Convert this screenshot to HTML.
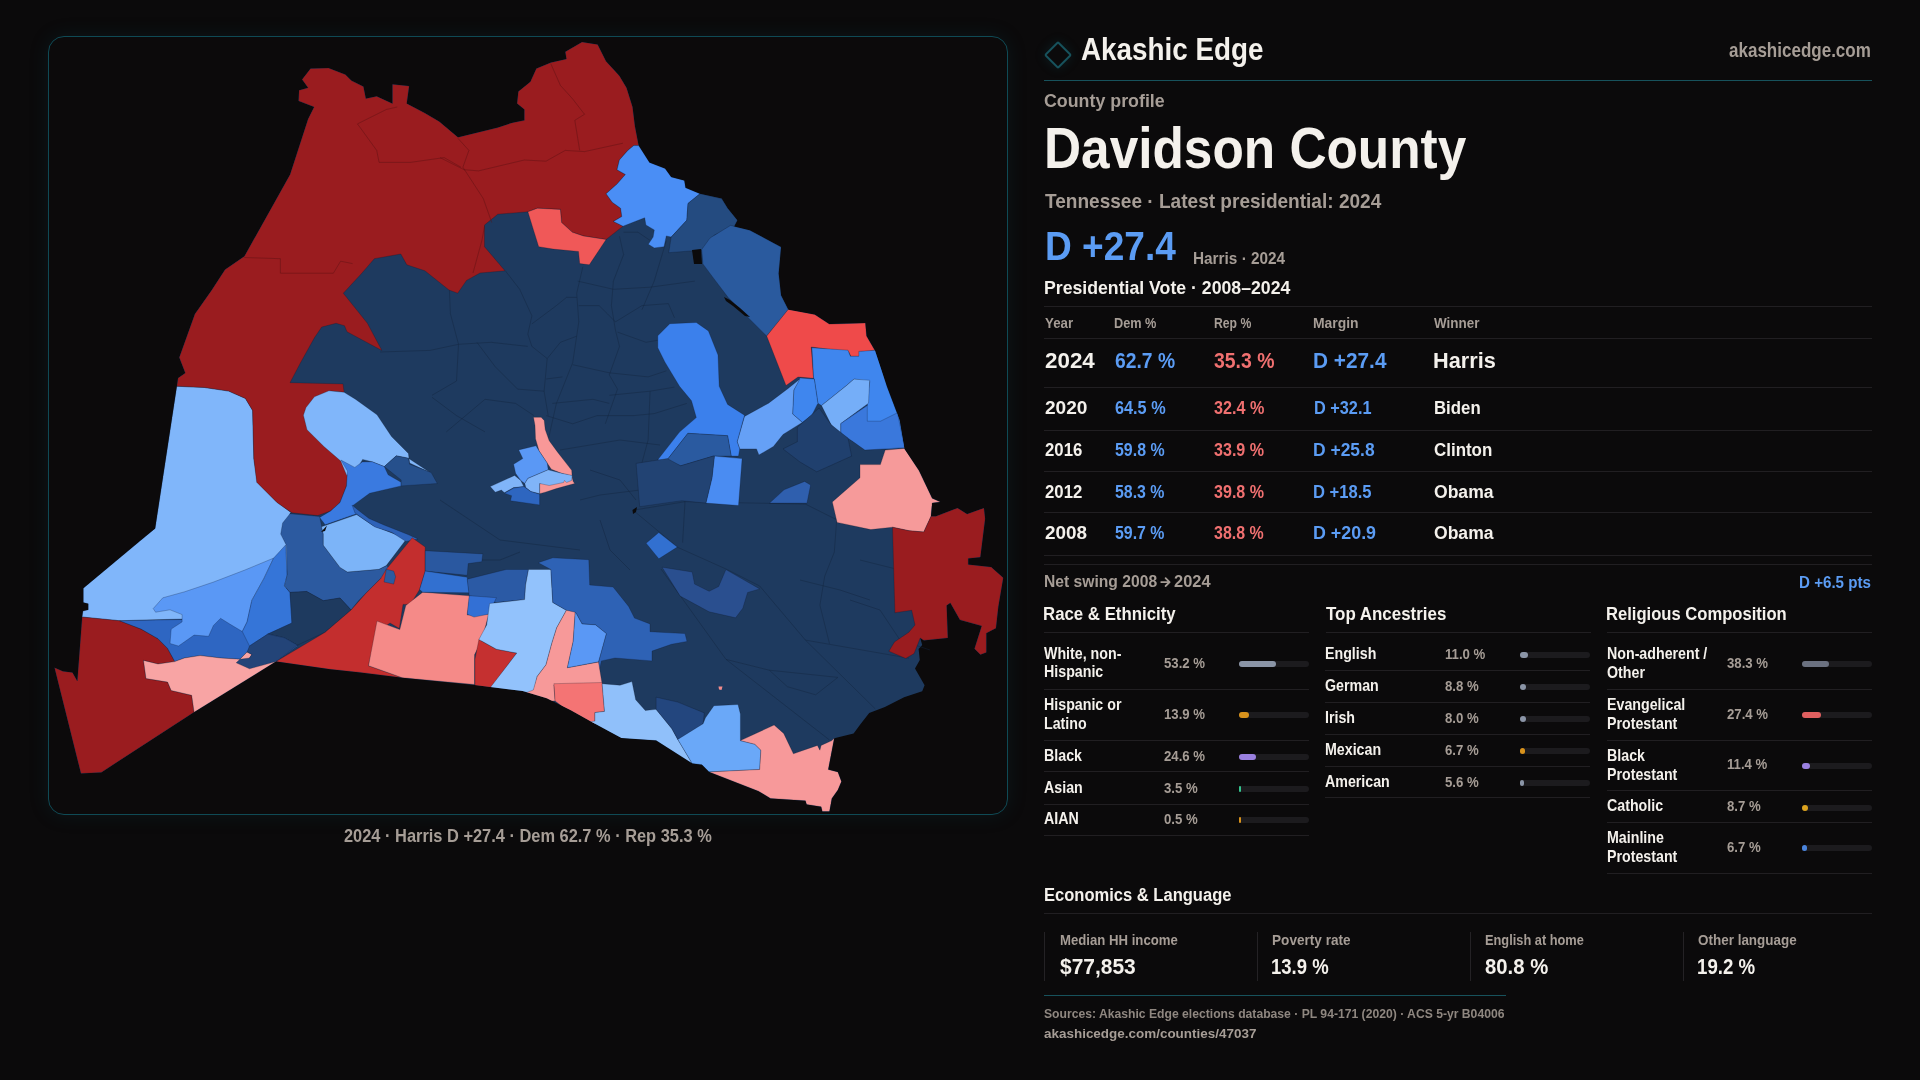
<!DOCTYPE html>
<html><head><meta charset="utf-8"><style>
html,body{margin:0;padding:0;width:1920px;height:1080px;overflow:hidden;background:#0b0a0b;}
.t{position:absolute;white-space:nowrap;line-height:1;font-family:"Liberation Sans",sans-serif;transform-origin:0 0;}
.r{position:absolute;}
.frame{position:absolute;left:48px;top:36px;width:958px;height:777px;border:1.2px solid #0f4a55;border-radius:16px;background:#0c0a0b;box-shadow:0 0 20px rgba(20,90,100,0.16);}
.diamond{position:absolute;left:1047.8px;top:45.3px;width:16px;height:16px;border:2px solid #17525c;border-radius:2px;transform:rotate(45deg);box-shadow:0 0 12px rgba(20,100,110,0.22);}
svg.map{position:absolute;left:0;top:0;}
</style></head><body>
<div class="frame"></div>
<svg class="map" width="1920" height="1080" viewBox="0 0 1920 1080">
<defs><clipPath id="oc"><polygon points="308.0,119.0 314.0,107.0 298.5,101.0 299.0,90.2 308.0,87.8 302.0,79.4 310.5,68.5 328.6,68.0 345.4,74.5 351.4,80.6 363.5,86.6 365.9,98.6 376.7,96.2 392.4,103.4 392.4,84.2 409.2,85.9 406.8,103.4 424.9,113.1 439.3,121.5 458.0,137.2 497.8,127.5 512.2,122.7 524.3,120.3 524.3,109.5 517.0,103.4 518.3,91.4 530.3,81.8 536.3,68.5 550.8,62.5 566.4,58.9 565.2,51.7 582.0,42.0 597.7,44.4 606.1,61.3 619.4,75.7 626.6,87.8 632.6,107.0 635.0,126.3 638.7,145.6 649.5,162.4 665.1,168.5 671.2,176.9 684.4,180.5 685.6,187.7 700.0,193.7 721.7,198.6 727.7,208.2 737.4,220.2 734.2,226.6 749.8,230.2 781.1,247.0 778.7,273.5 781.1,295.2 788.4,309.7 814.8,314.5 829.3,324.1 865.4,322.9 866.6,336.1 875.0,350.6 887.1,386.7 899.7,420.0 904.5,448.9 919.0,470.6 932.2,498.3 940.6,501.9 932.2,503.1 931.0,516.3 935.8,516.3 957.5,507.9 967.1,513.9 984.0,507.9 985.2,518.7 980.4,557.3 968.3,558.5 968.3,564.5 991.2,566.9 1003.3,577.8 998.4,606.7 996.0,628.3 986.4,633.2 986.4,652.4 980.4,654.8 974.4,648.8 981.6,625.9 959.9,619.9 950.3,603.0 946.7,605.5 947.9,638.0 923.8,640.4 920.2,638.0 922.2,645.0 918.6,649.1 919.8,659.9 915.0,668.4 924.6,685.2 922.2,691.2 904.1,697.2 884.9,706.9 869.2,712.9 860.8,723.7 853.6,733.4 834.3,738.2 828.3,769.5 837.9,771.9 841.5,781.5 837.9,790.0 831.9,798.4 829.5,811.6 822.3,811.6 821.1,806.8 806.6,804.4 805.4,800.8 770.5,798.4 758.5,791.2 709.1,771.9 701.9,764.7 692.2,763.5 656.1,740.6 621.4,737.9 590.0,721.1 570.8,710.2 546.7,698.2 522.6,691.0 474.5,685.0 402.2,677.7 360.0,672.4 330.0,669.3 276.0,661.6 194.1,712.2 101.4,772.4 80.9,773.6 54.4,667.6 62.9,671.2 72.5,672.4 77.3,680.9 82.1,617.0 82.9,611.0 88.2,609.8 88.2,603.8 83.3,602.6 83.3,588.2 141.1,540.0 155.1,528.4 176.8,386.3 178.0,377.9 185.2,373.1 179.2,357.4 194.8,314.1 211.7,290.0 225.0,269.6 244.3,256.3 290.0,174.5"/></clipPath></defs>
<polygon fill="#1e3a5f" points="308.0,119.0 314.0,107.0 298.5,101.0 299.0,90.2 308.0,87.8 302.0,79.4 310.5,68.5 328.6,68.0 345.4,74.5 351.4,80.6 363.5,86.6 365.9,98.6 376.7,96.2 392.4,103.4 392.4,84.2 409.2,85.9 406.8,103.4 424.9,113.1 439.3,121.5 458.0,137.2 497.8,127.5 512.2,122.7 524.3,120.3 524.3,109.5 517.0,103.4 518.3,91.4 530.3,81.8 536.3,68.5 550.8,62.5 566.4,58.9 565.2,51.7 582.0,42.0 597.7,44.4 606.1,61.3 619.4,75.7 626.6,87.8 632.6,107.0 635.0,126.3 638.7,145.6 649.5,162.4 665.1,168.5 671.2,176.9 684.4,180.5 685.6,187.7 700.0,193.7 721.7,198.6 727.7,208.2 737.4,220.2 734.2,226.6 749.8,230.2 781.1,247.0 778.7,273.5 781.1,295.2 788.4,309.7 814.8,314.5 829.3,324.1 865.4,322.9 866.6,336.1 875.0,350.6 887.1,386.7 899.7,420.0 904.5,448.9 919.0,470.6 932.2,498.3 940.6,501.9 932.2,503.1 931.0,516.3 935.8,516.3 957.5,507.9 967.1,513.9 984.0,507.9 985.2,518.7 980.4,557.3 968.3,558.5 968.3,564.5 991.2,566.9 1003.3,577.8 998.4,606.7 996.0,628.3 986.4,633.2 986.4,652.4 980.4,654.8 974.4,648.8 981.6,625.9 959.9,619.9 950.3,603.0 946.7,605.5 947.9,638.0 923.8,640.4 920.2,638.0 922.2,645.0 918.6,649.1 919.8,659.9 915.0,668.4 924.6,685.2 922.2,691.2 904.1,697.2 884.9,706.9 869.2,712.9 860.8,723.7 853.6,733.4 834.3,738.2 828.3,769.5 837.9,771.9 841.5,781.5 837.9,790.0 831.9,798.4 829.5,811.6 822.3,811.6 821.1,806.8 806.6,804.4 805.4,800.8 770.5,798.4 758.5,791.2 709.1,771.9 701.9,764.7 692.2,763.5 656.1,740.6 621.4,737.9 590.0,721.1 570.8,710.2 546.7,698.2 522.6,691.0 474.5,685.0 402.2,677.7 360.0,672.4 330.0,669.3 276.0,661.6 194.1,712.2 101.4,772.4 80.9,773.6 54.4,667.6 62.9,671.2 72.5,672.4 77.3,680.9 82.1,617.0 82.9,611.0 88.2,609.8 88.2,603.8 83.3,602.6 83.3,588.2 141.1,540.0 155.1,528.4 176.8,386.3 178.0,377.9 185.2,373.1 179.2,357.4 194.8,314.1 211.7,290.0 225.0,269.6 244.3,256.3 290.0,174.5"/>
<g fill="none" stroke="#13253f" stroke-opacity="0.55" stroke-width="0.8" stroke-linejoin="round">
<polyline points="634.4,511.3 677.8,547.4 726.0,569.0 759.7,586.0"/>
<polyline points="661.0,569.0 726.0,659.4 829.5,740.0"/>
<polyline points="759.7,586.0 805.4,640.1 875.2,708.8"/>
<polyline points="726.0,659.4 769.3,670.2 837.9,677.4"/>
<polyline points="769.3,670.2 787.4,686.7 815.6,694.8 837.9,677.4"/>
<polyline points="805.4,640.1 909.0,658.2"/>
<polyline points="634.4,510.0 685.0,501.7 805.4,504.1 836.7,519.7"/>
<polyline points="836.7,519.7 834.3,552.2 824.7,576.3 819.9,605.2 829.5,643.7"/>
<polyline points="685.0,501.7 682.6,542.6"/>
<polyline points="505.4,270.9 519.7,289.3 531.9,315.8 527.8,334.1 531.9,346.4 547.2,358.6 544.1,391.2 548.2,415.6"/>
<polyline points="531.9,323.9 556.4,305.6 566.5,297.4 576.7,297.4"/>
<polyline points="582.8,266.9 576.7,293.4 578.8,321.9 572.7,362.7 556.4,403.4 548.2,440.0"/>
<polyline points="547.2,358.6 560.4,342.3 576.7,336.2"/>
<polyline points="380.0,352.0 430.0,350.4 458.5,344.3 491.1,342.3 527.8,346.4"/>
<polyline points="449.4,289.3 450.4,313.7 458.5,344.3 456.5,381.0 432.0,395.3"/>
<polyline points="476.9,342.3 495.2,366.7 517.6,389.1 544.1,391.2"/>
<polyline points="432.0,397.3 456.5,415.6 485.0,431.9"/>
<polyline points="446.3,431.9 485.0,399.3 515.6,403.4 533.9,415.6"/>
<polyline points="577.7,281.1 613.4,289.3 650.1,287.2 694.9,281.1"/>
<polyline points="578.8,305.6 599.1,305.6 607.3,313.7 615.4,321.9 642.0,305.6 668.4,303.6 674.5,317.8"/>
<polyline points="619.5,236.3 623.6,254.6 613.4,281.1 611.4,305.6 615.4,330.0 619.5,346.4 609.3,374.9 617.5,389.1 605.3,423.8"/>
<polyline points="666.4,240.4 654.2,281.1 642.0,309.7"/>
<polyline points="617.5,332.1 646.0,342.3 658.2,340.2"/>
<polyline points="572.7,364.7 609.3,372.8 648.1,376.9 666.4,370.8"/>
<polyline points="546.2,379.0 562.5,376.9"/>
<polyline points="609.3,395.3 650.1,391.2 674.5,387.1"/>
<polyline points="552.3,403.4 593.0,399.3 609.3,403.4"/>
<polyline points="546.2,415.6 572.7,423.8 597.1,415.6 633.8,415.6 654.2,413.6 686.8,403.4"/>
<polyline points="650.1,391.2 648.1,440.0 640.0,470.0"/>
<polyline points="623.6,232.2 637.9,232.2 650.1,240.4"/>
<polyline points="590.0,470.0 620.0,480.0 636.0,500.0"/>
<polyline points="440.0,500.0 470.0,520.0 500.0,540.0 540.0,545.0 580.0,550.0"/>
<polyline points="600.0,520.0 610.0,550.0 630.0,570.0"/>
<polyline points="850.0,600.0 880.0,610.0 900.0,640.0 930.0,650.0"/>
<polyline points="860.0,560.0 900.0,570.0 940.0,580.0 960.0,600.0"/>
<polyline points="800.0,580.0 840.0,590.0 870.0,600.0"/>
<polyline points="560.0,450.0 590.0,445.0 620.0,440.0 660.0,445.0"/>
<polyline points="580.0,500.0 600.0,495.0 640.0,490.0"/>
<polyline points="470.0,560.0 500.0,560.0 520.0,552.0"/>
</g>
<g clip-path="url(#oc)">
<polygon fill="#80b6fa" points="176.8,386.3 155.1,528.4 141.1,540.0 83.3,588.2 83.3,602.6 88.2,603.8 88.2,609.8 82.9,611.0 82.1,617.0 119.5,620.7 182.0,619.0 240.0,606.0 286.0,593.0 290.0,513.0 291.2,512.7 276.7,501.9 257.4,482.6 253.8,458.6 252.6,410.4 245.4,398.4 228.6,391.1 204.5,387.5" stroke="#0b1424" stroke-opacity="0.35" stroke-width="0.7" stroke-linejoin="round"/>
<polygon fill="#9a1c1f" points="176.8,386.3 178.0,377.9 185.2,373.1 179.2,357.4 194.8,314.1 211.7,290.0 225.0,269.6 244.3,256.3 290.0,174.5 308.0,119.0 314.0,107.0 298.5,101.0 299.0,90.2 308.0,87.8 302.0,79.4 310.5,68.5 328.6,68.0 345.4,74.5 351.4,80.6 363.5,86.6 365.9,98.6 376.7,96.2 392.4,103.4 392.4,84.2 409.2,85.9 406.8,103.4 424.9,113.1 439.3,121.5 458.0,137.2 497.8,127.5 512.2,122.7 524.3,120.3 524.3,109.5 517.0,103.4 518.3,91.4 530.3,81.8 536.3,68.5 550.8,62.5 566.4,58.9 565.2,51.7 582.0,42.0 597.7,44.4 606.1,61.3 619.4,75.7 626.6,87.8 632.6,107.0 635.0,126.3 638.7,145.6 633.8,145.6 627.8,150.4 619.4,160.0 617.0,169.7 625.4,174.5 617.0,184.1 606.1,193.7 612.2,202.2 620.6,208.2 621.8,216.6 613.4,221.4 623.0,226.2 618.2,229.9 606.1,239.5 583.3,235.9 572.4,232.3 561.6,222.6 560.4,209.4 537.5,208.2 527.9,211.8 497.8,214.2 484.5,225.0 484.5,246.7 505.0,270.8 480.0,273.0 466.5,280.4 457.7,293.2 449.0,290.0 424.9,270.8 406.8,264.8 400.8,254.0 374.3,258.7 362.0,273.0 343.3,293.2 357.8,311.3 367.4,323.3 381.9,350.5 347.0,331.8 344.5,325.7 336.1,323.3 321.7,327.0 314.4,337.8 300.8,362.2 290.0,382.7 343.0,383.9 344.1,392.3 329.7,391.1 312.8,400.8 304.4,415.2 308.0,429.7 324.9,446.5 341.7,461.0 347.7,475.4 346.5,485.9 340.0,502.6 330.7,510.9 317.8,515.6 291.9,512.8 277.0,502.6 256.7,482.2 253.8,458.6 252.6,410.4 245.4,398.4 228.6,391.1 204.5,387.5 178.0,386.3" stroke="#0b1424" stroke-opacity="0.35" stroke-width="0.7" stroke-linejoin="round"/>
<g fill="none" stroke="#5a1012" stroke-opacity="0.55" stroke-width="0.8" stroke-linejoin="round">
<polyline points="550.8,63.7 560.4,85.4 572.4,98.6 584.5,114.3 574.8,120.3 579.7,150.4"/>
<polyline points="458.0,138.4 468.9,150.4 462.9,167.2 483.3,198.6 491.8,222.6"/>
<polyline points="464.1,169.7 478.5,170.9 524.3,160.0 546.0,161.2 565.2,150.4 584.5,151.6 623.0,143.2"/>
<polyline points="440.0,157.6 454.4,164.8 464.1,169.7"/>
<polyline points="357.5,123.9 376.7,150.4 379.1,162.4 410.4,162.4 444.1,157.6 461.0,167.2"/>
<polyline points="357.5,123.9 386.3,109.5 397.2,107.0"/>
<polyline points="244.3,257.5 280.4,258.7 280.4,273.2 333.4,273.2 340.6,261.2 352.6,263.6"/>
<polyline points="484.6,226.0 482.0,240.0 473.0,273.0"/>
</g>
<polygon fill="#80b6fa" points="314.4,396.8 328.9,390.8 344.1,392.3 355.4,399.2 377.0,414.8 391.5,436.5 408.4,453.4 409.6,463.0 430.0,472.6 408.4,458.2 396.3,455.8 384.3,466.6 372.2,461.8 362.6,459.4 357.8,467.8 346.7,475.4 340.7,461.0 323.9,446.5 307.0,429.7 303.4,415.2 306.0,407.6" stroke="#0b1424" stroke-opacity="0.35" stroke-width="0.7" stroke-linejoin="round"/>
<polygon fill="#3a7ae0" points="340.9,460.0 354.8,467.4 362.2,461.9 372.2,461.8 384.3,466.6 388.1,474.8 401.1,482.2 401.1,485.9 369.6,493.3 353.0,505.4 356.7,513.7 325.2,524.8 319.6,517.4 330.7,510.9 340.0,502.6 346.5,485.9 347.4,471.1" stroke="#0b1424" stroke-opacity="0.35" stroke-width="0.7" stroke-linejoin="round"/>
<polygon fill="#26508c" points="384.3,466.6 396.3,455.8 408.4,458.2 409.6,464.2 431.2,472.6 437.3,483.5 401.1,485.9 401.1,479.9" stroke="#0b1424" stroke-opacity="0.35" stroke-width="0.7" stroke-linejoin="round"/>
<polygon fill="#9a1c1f" points="82.1,617.0 77.3,680.9 72.5,672.4 62.9,671.2 54.4,667.6 80.9,773.6 101.4,772.4 194.1,712.2 191.7,695.3 171.2,690.5 167.6,682.1 146.0,678.5 143.5,660.4 158.0,664.0 174.8,661.6 167.6,648.4 158.0,638.7 141.1,629.1 119.5,620.7" stroke="#0b1424" stroke-opacity="0.35" stroke-width="0.7" stroke-linejoin="round"/>
<polygon fill="#2e66c2" points="119.5,620.7 182.1,619.5 240.0,606.0 290.0,593.0 297.6,646.0 276.0,661.6 268.7,658.0 249.5,658.0 251.9,654.4 247.1,652.0 239.9,659.2 220.6,658.0 200.1,655.6 184.5,658.0 174.8,661.6 167.6,648.4 158.0,638.7 141.1,629.1" stroke="#0b1424" stroke-opacity="0.35" stroke-width="0.7" stroke-linejoin="round"/>
<polygon fill="#f8a4a4" points="143.5,660.4 158.0,664.0 174.8,661.6 184.5,658.0 200.1,655.6 220.6,658.0 239.9,659.2 247.1,652.0 251.9,654.4 249.5,658.0 268.7,658.0 276.0,661.6 194.1,712.2 191.7,695.3 171.2,690.5 167.6,682.1 146.0,678.5" stroke="#0b1424" stroke-opacity="0.35" stroke-width="0.7" stroke-linejoin="round"/>
<polygon fill="#5a98f5" points="153.2,608.6 162.8,597.8 184.5,591.8 213.4,582.1 244.7,570.1 273.6,558.1 263.9,578.5 251.9,600.2 247.1,621.9 242.3,631.5 230.2,624.3 220.6,618.3 213.4,625.5 208.6,636.3 194.1,635.1 178.5,646.0 170.0,643.5 171.2,629.1 182.1,621.9 182.1,614.6 170.0,609.8 155.6,612.2" stroke="#0b1424" stroke-opacity="0.35" stroke-width="0.7" stroke-linejoin="round"/>
<polygon fill="#3575d8" points="273.6,558.1 285.6,545.0 287.2,574.8 284.4,585.9 290.0,592.4 291.9,623.0 267.8,634.1 249.5,646.0 242.3,631.5 247.1,621.9 251.9,600.2 263.9,578.5" stroke="#0b1424" stroke-opacity="0.35" stroke-width="0.7" stroke-linejoin="round"/>
<polygon fill="#2c5aa0" points="282.6,523.0 290.0,513.7 319.6,516.5 323.3,534.1 323.3,545.2 340.0,567.4 347.4,572.0 378.9,569.3 386.3,565.6 395.6,573.0 393.7,584.1 380.7,578.5 358.5,600.7 351.1,610.0 340.0,598.0 323.3,600.7 306.7,591.5 290.0,592.4 284.4,585.9 287.2,574.8 286.3,545.2 280.7,534.1" stroke="#0b1424" stroke-opacity="0.35" stroke-width="0.7" stroke-linejoin="round"/>
<polygon fill="#1e3a5f" points="290.0,592.4 306.7,591.5 323.3,600.7 340.0,598.0 351.1,610.0 325.2,632.2 297.4,645.2 284.4,637.8 267.8,634.1 291.9,623.0" stroke="#0b1424" stroke-opacity="0.35" stroke-width="0.7" stroke-linejoin="round"/>
<polygon fill="#234478" points="236.2,662.8 249.5,668.8 276.0,661.6 297.4,645.2 284.4,637.8 267.8,634.1 249.5,646.0 247.1,652.0 251.9,654.4 249.5,658.0 239.9,659.2" stroke="#0b1424" stroke-opacity="0.35" stroke-width="0.7" stroke-linejoin="round"/>
<polygon fill="#7cb4f8" points="321.5,526.7 356.7,514.6 373.3,525.7 406.7,538.7 386.3,565.6 378.9,569.3 347.4,572.0 340.0,567.4 323.3,545.2 323.3,534.1" stroke="#0b1424" stroke-opacity="0.35" stroke-width="0.7" stroke-linejoin="round"/>
<polygon fill="#2e62b8" points="352.0,505.0 358.0,510.0 369.0,518.5 384.0,525.0 408.0,534.5 418.0,539.0 406.0,541.5 392.0,532.5 375.0,527.0 362.0,518.0 355.0,513.0" stroke="#0b1424" stroke-opacity="0.35" stroke-width="0.7" stroke-linejoin="round"/>
<polygon fill="#0b0a0b" points="321.0,532.0 327.0,525.5 325.0,531.0"/>
<polygon fill="#c32e2e" points="276.0,661.6 325.2,632.2 351.1,610.0 365.9,593.3 380.7,578.5 386.3,569.3 412.2,537.8 425.2,547.0 425.2,571.1 419.6,589.6 410.4,604.4 403.0,604.4 399.3,628.5 390.0,623.0 377.0,632.2 368.5,665.7 402.2,677.7 360.0,672.4 330.0,669.3" stroke="#0b1424" stroke-opacity="0.35" stroke-width="0.7" stroke-linejoin="round"/>
<polygon fill="#2c5aa0" points="386.3,569.3 393.7,571.1 395.6,576.7 393.7,584.1 384.0,582.0" stroke="#0b1424" stroke-opacity="0.35" stroke-width="0.7" stroke-linejoin="round"/>
<polygon fill="#f58a88" points="368.5,665.7 377.0,621.1 399.8,629.6 405.8,605.5 422.7,592.2 469.7,595.8 467.3,615.1 488.9,613.9 481.7,640.4 474.5,654.8 474.5,684.5 402.2,677.7" stroke="#0b1424" stroke-opacity="0.35" stroke-width="0.7" stroke-linejoin="round"/>
<polygon fill="#2a58a0" points="425.2,550.7 482.8,553.9 481.8,561.7 468.2,563.6 467.2,575.3 425.2,571.1" stroke="#0b1424" stroke-opacity="0.35" stroke-width="0.7" stroke-linejoin="round"/>
<polygon fill="#3270d0" points="425.2,571.1 467.2,577.2 469.2,592.8 422.7,592.2 419.6,589.6" stroke="#0b1424" stroke-opacity="0.35" stroke-width="0.7" stroke-linejoin="round"/>
<polygon fill="#2b5aa5" points="467.2,579.2 506.1,569.5 528.5,569.5 525.6,585.0 524.6,599.6 496.4,602.5 469.2,595.7" stroke="#0b1424" stroke-opacity="0.35" stroke-width="0.7" stroke-linejoin="round"/>
<polygon fill="#3370d5" points="469.2,595.7 496.4,597.7 488.6,614.2 474.0,617.1 467.2,614.2" stroke="#0b1424" stroke-opacity="0.35" stroke-width="0.7" stroke-linejoin="round"/>
<polygon fill="#c53030" points="478.9,639.5 496.4,649.2 516.8,653.1 490.6,688.1 475.0,686.1 475.0,658.9" stroke="#0b1424" stroke-opacity="0.35" stroke-width="0.7" stroke-linejoin="round"/>
<polygon fill="#92c2fc" points="489.6,603.5 524.6,599.6 525.6,585.0 528.5,569.5 550.9,569.5 552.8,602.5 566.4,610.3 556.7,627.8 551.8,643.4 546.0,664.8 537.2,676.4 533.3,693.0 522.6,692.0 489.5,688.5 516.8,653.1 496.4,649.2 478.9,639.5 486.7,624.9" stroke="#0b1424" stroke-opacity="0.35" stroke-width="0.7" stroke-linejoin="round"/>
<polygon fill="#2e62b5" points="538.2,562.7 552.8,557.8 588.8,559.7 589.7,585.0 613.1,587.0 628.6,606.4 634.5,618.1 650.0,623.9 650.0,631.7 685.0,633.6 687.0,641.4 671.4,644.3 652.0,651.1 652.0,660.9 615.0,658.0 601.4,660.9 599.5,669.6 598.5,661.8 606.3,633.6 595.6,624.9 582.0,623.9 576.1,613.2 566.4,610.3 552.8,602.5 550.9,569.5" stroke="#0b1424" stroke-opacity="0.35" stroke-width="0.7" stroke-linejoin="round"/>
<polygon fill="#f79999" points="566.4,610.3 575.2,612.2 573.2,641.4 567.4,667.7 598.5,662.0 602.1,683.7 553.9,685.0 555.1,701.0 546.7,701.0 522.6,694.0 533.3,690.0 537.2,676.4 546.0,664.8 551.8,643.4 556.7,627.8" stroke="#0b1424" stroke-opacity="0.35" stroke-width="0.7" stroke-linejoin="round"/>
<polygon fill="#f47474" points="553.9,683.7 602.1,682.5 604.5,711.4 594.9,712.6 594.9,724.0 570.8,713.0 555.1,701.0" stroke="#0b1424" stroke-opacity="0.35" stroke-width="0.7" stroke-linejoin="round"/>
<polygon fill="#5a98f5" points="576.1,613.2 582.0,623.9 595.6,624.9 606.3,633.6 598.5,661.8 567.4,667.7 573.2,641.4 575.2,612.2" stroke="#0b1424" stroke-opacity="0.35" stroke-width="0.7" stroke-linejoin="round"/>
<polygon fill="#90c0fa" points="602.1,683.7 620.0,685.2 632.0,681.6 635.7,699.7 645.3,710.5 656.1,709.3 671.8,728.6 677.8,739.4 692.2,763.5 656.1,740.6 621.4,738.5 588.0,722.0 594.9,721.1 594.9,712.6 604.5,711.4" stroke="#0b1424" stroke-opacity="0.35" stroke-width="0.7" stroke-linejoin="round"/>
<polygon fill="#23467e" points="656.1,697.2 677.8,702.1 704.3,712.9 703.1,723.7 689.8,735.8 677.8,739.4 671.8,728.6 656.1,709.3" stroke="#0b1424" stroke-opacity="0.35" stroke-width="0.7" stroke-linejoin="round"/>
<polygon fill="#6aa8f8" points="677.8,739.4 703.1,723.7 705.5,717.7 713.9,705.7 738.0,704.5 740.4,714.1 740.4,740.6 754.8,744.2 760.9,750.2 759.7,769.5 709.1,771.9 701.9,764.7 692.2,763.5" stroke="#0b1424" stroke-opacity="0.35" stroke-width="0.7" stroke-linejoin="round"/>
<polygon fill="#f7999a" points="740.4,740.6 774.1,725.0 783.7,733.4 793.4,753.8 817.4,745.4 819.9,750.2 821.1,745.4 831.9,740.6 834.3,738.2 828.3,769.5 837.9,771.9 841.5,781.5 837.9,790.0 831.9,798.4 829.5,811.6 822.3,811.6 821.1,806.8 806.6,804.4 805.4,800.8 770.5,798.4 758.5,791.2 709.1,771.9 759.7,769.5 760.9,750.2 754.8,744.2" stroke="#0b1424" stroke-opacity="0.35" stroke-width="0.7" stroke-linejoin="round"/>
<polygon fill="#2a4f8f" points="662.1,567.2 692.2,572.0 694.6,584.1 709.1,591.3 718.7,586.5 725.9,569.6 759.7,588.9 747.6,592.5 742.8,608.2 735.6,617.8 709.1,611.8 680.2,596.1" stroke="#0b1424" stroke-opacity="0.35" stroke-width="0.7" stroke-linejoin="round"/>
<polygon fill="#f05858" points="527.9,211.8 537.5,208.2 560.4,209.4 561.6,222.6 572.4,232.3 583.3,235.9 606.1,239.5 589.3,264.8 579.7,263.6 578.5,251.5 553.2,249.1 538.7,246.7 532.7,227.4" stroke="#0b1424" stroke-opacity="0.35" stroke-width="0.7" stroke-linejoin="round"/>
<polygon fill="#4a8ef5" points="633.8,145.6 638.7,145.6 649.5,162.4 665.1,168.5 671.2,176.9 684.4,180.5 685.6,187.7 700.0,193.7 688.0,203.4 686.8,220.2 671.2,237.1 666.3,235.9 664.0,246.7 654.3,247.9 648.3,244.3 653.1,237.1 654.3,229.9 645.9,225.0 644.7,217.8 623.0,226.2 613.4,221.4 621.8,216.6 620.6,208.2 612.2,202.2 606.1,193.7 617.0,184.1 625.4,174.5 617.0,169.7 619.4,160.0 627.8,150.4" stroke="#0b1424" stroke-opacity="0.35" stroke-width="0.7" stroke-linejoin="round"/>
<polygon fill="#244b80" points="700.0,193.7 721.7,198.6 727.7,208.2 737.4,220.2 734.2,226.6 714.5,235.0 702.5,250.0 668.7,252.7 671.2,237.1 686.8,220.2 688.0,203.4" stroke="#0b1424" stroke-opacity="0.35" stroke-width="0.7" stroke-linejoin="round"/>
<polygon fill="#2a5a9e" points="730.6,225.4 749.8,230.2 781.1,247.0 778.7,273.5 781.1,295.2 788.4,309.7 766.7,336.1 745.0,314.5 728.2,297.6 713.7,278.4 702.9,263.9 701.7,249.5 710.0,238.0" stroke="#0b1424" stroke-opacity="0.35" stroke-width="0.7" stroke-linejoin="round"/>
<polygon fill="#0b0a0b" points="692.0,250.0 701.0,249.0 702.0,264.0 694.0,264.0"/>
<polygon fill="#ef4a4a" points="788.4,309.2 814.8,314.5 829.3,324.1 865.4,322.9 866.6,336.1 875.0,350.6 860.6,351.8 859.4,356.6 851.0,356.6 848.6,351.8 811.2,347.0 813.6,378.3 798.0,377.0 786.0,385.5 766.7,336.1" stroke="#0b1424" stroke-opacity="0.35" stroke-width="0.7" stroke-linejoin="round"/>
<polygon fill="#3f86ee" points="811.9,347.8 848.0,350.2 850.4,356.2 858.8,356.2 858.8,351.4 875.7,350.2 887.1,386.7 899.7,420.0 904.6,447.7 889.0,448.9 867.3,448.9 840.8,434.5 840.8,423.6 867.3,405.6 869.7,381.5 854.0,379.1 845.6,386.3 821.5,405.6 817.9,403.2 814.3,379.1 813.6,378.3" stroke="#0b1424" stroke-opacity="0.35" stroke-width="0.7" stroke-linejoin="round"/>
<polygon fill="#75aef8" points="821.5,405.6 845.6,386.3 854.0,379.1 869.7,380.3 868.5,403.2 840.8,423.6 840.8,434.5 831.2,424.8" stroke="#0b1424" stroke-opacity="0.35" stroke-width="0.7" stroke-linejoin="round"/>
<polygon fill="#3a78dc" points="840.8,423.6 867.3,405.6 867.3,421.2 880.5,421.2 897.4,412.8 904.6,447.7 884.1,448.9 864.9,450.1 848.0,438.1 840.8,434.5" stroke="#0b1424" stroke-opacity="0.35" stroke-width="0.7" stroke-linejoin="round"/>
<polygon fill="#3f86ee" points="799.9,377.9 814.3,379.1 817.9,403.2 811.9,415.2 802.3,422.4 792.6,414.0 793.8,390.0" stroke="#0b1424" stroke-opacity="0.35" stroke-width="0.7" stroke-linejoin="round"/>
<polygon fill="#65a0f6" points="744.5,416.4 768.6,403.2 787.8,388.7 799.9,379.1 793.8,390.0 792.6,414.0 802.3,422.4 783.0,434.5 773.4,446.5 758.9,455.0 756.5,448.9 739.7,448.9 737.2,441.7" stroke="#0b1424" stroke-opacity="0.35" stroke-width="0.7" stroke-linejoin="round"/>
<polygon fill="#3b80ec" points="657.8,335.8 669.8,323.7 696.3,322.5 708.4,330.9 718.0,355.0 719.2,386.3 727.6,404.4 744.5,415.2 737.2,441.7 739.7,448.9 738.5,456.1 731.2,456.1 727.6,435.7 687.9,433.3 666.2,461.0 657.8,459.8 679.5,432.1 696.3,417.6 691.5,400.8 679.5,386.3 665.0,362.2 657.8,347.8" stroke="#0b1424" stroke-opacity="0.35" stroke-width="0.7" stroke-linejoin="round"/>
<polygon fill="#2a5aa0" points="666.2,461.0 687.9,433.3 727.6,435.7 731.2,456.1 713.2,456.1 680.7,465.8" stroke="#0b1424" stroke-opacity="0.35" stroke-width="0.7" stroke-linejoin="round"/>
<polygon fill="#4a8cf2" points="714.4,456.1 742.1,458.6 738.5,505.5 705.9,503.1 712.0,477.8" stroke="#0b1424" stroke-opacity="0.35" stroke-width="0.7" stroke-linejoin="round"/>
<polygon fill="#224373" points="636.1,463.4 667.4,458.6 680.7,465.8 713.2,456.1 714.4,456.1 712.0,477.8 705.9,503.1 681.9,500.7 639.7,506.7" stroke="#0b1424" stroke-opacity="0.35" stroke-width="0.7" stroke-linejoin="round"/>
<polygon fill="#20406e" points="783.0,448.9 797.4,441.7 797.4,427.3 819.1,408.0 831.2,424.8 848.0,438.1 851.6,456.1 816.7,471.8 800.0,462.0" stroke="#0b1424" stroke-opacity="0.35" stroke-width="0.7" stroke-linejoin="round"/>
<polygon fill="#2f5fae" points="769.6,503.1 784.0,489.8 804.6,481.4 810.6,485.0 807.0,503.1" stroke="#0b1424" stroke-opacity="0.35" stroke-width="0.7" stroke-linejoin="round"/>
<polygon fill="#f69a9a" points="885.2,450.1 904.5,448.4 919.0,470.6 932.2,498.3 940.6,501.9 932.2,503.1 931.0,516.3 923.8,532.0 909.3,530.8 892.5,527.2 870.8,529.6 837.1,522.4 832.3,501.9 860.0,477.8 860.0,464.6 880.4,464.6" stroke="#0b1424" stroke-opacity="0.35" stroke-width="0.7" stroke-linejoin="round"/>
<polygon fill="#9a1c1f" points="892.5,527.2 909.3,530.8 923.8,532.0 931.0,516.3 935.8,516.3 957.5,507.9 967.1,513.9 984.0,507.9 985.2,518.7 980.4,557.3 968.3,558.5 968.3,564.5 991.2,566.9 1003.3,577.8 998.4,606.7 996.0,628.3 986.4,633.2 986.4,652.4 980.4,654.8 974.4,648.8 981.6,625.9 959.9,619.9 950.3,603.0 946.7,605.5 947.9,638.0 923.8,640.4 920.2,638.0 914.1,653.6 905.7,658.4 888.9,651.2 894.5,641.9 908.9,632.2 915.0,625.0 911.7,610.3 894.9,612.7" stroke="#0b1424" stroke-opacity="0.35" stroke-width="0.7" stroke-linejoin="round"/>
<polygon fill="#f89898" points="533.5,417.3 541.1,417.3 544.2,420.4 545.2,429.5 549.2,440.7 557.4,451.9 564.5,461.1 571.7,470.3 572.2,477.4 573.2,481.5 574.7,483.5 556.4,488.6 545.2,492.2 539.6,493.7 539.6,483.5 572.0,476.0 561.5,473.3 551.3,469.2 547.2,463.1 539.1,450.9 535.5,438.7 535.0,425.5" stroke="#0b1424" stroke-opacity="0.35" stroke-width="0.7" stroke-linejoin="round"/>
<polygon fill="#5a98f5" points="518.7,449.9 536.0,445.8 539.1,450.9 547.2,463.1 548.2,469.8 527.9,478.4 524.8,483.5 520.7,480.4 515.6,473.3 513.6,464.2 522.8,458.6" stroke="#0b1424" stroke-opacity="0.35" stroke-width="0.7" stroke-linejoin="round"/>
<polygon fill="#80b4f8" points="524.8,483.5 527.9,478.4 548.2,469.8 561.5,473.3 572.2,475.4 571.7,480.4 566.6,482.5 564.5,480.4 563.5,482.5 556.4,484.0 549.2,485.5 539.6,483.5 539.6,493.7 530.9,491.6 525.8,487.6" stroke="#0b1424" stroke-opacity="0.35" stroke-width="0.7" stroke-linejoin="round"/>
<polygon fill="#80b4f8" points="490.2,486.6 514.6,475.4 520.7,480.4 523.8,486.6 513.6,487.6 504.4,492.7 501.4,490.1 495.3,492.2" stroke="#0b1424" stroke-opacity="0.35" stroke-width="0.7" stroke-linejoin="round"/>
<polygon fill="#2e66c0" points="504.4,493.2 513.6,488.1 523.8,486.6 530.9,491.6 539.6,494.2 539.6,504.9 510.5,500.8 511.6,495.7" stroke="#0b1424" stroke-opacity="0.35" stroke-width="0.7" stroke-linejoin="round"/>
<polygon fill="#3270d0" points="646.1,543.2 658.8,532.5 677.3,547.1 658.8,558.8" stroke="#0b1424" stroke-opacity="0.35" stroke-width="0.7" stroke-linejoin="round"/>
<polygon fill="#0b0a0b" points="724.0,297.0 730.0,300.0 740.0,308.0 750.0,317.0 745.0,316.0 733.0,306.0 726.0,301.0"/>
<polygon fill="#f48c8c" points="718.5,686.5 722.5,686.5 721.5,690.0 719.0,689.5"/>
<polygon fill="#0b0a0b" points="632.5,510.0 637.0,507.0 636.0,512.0 633.0,514.0"/>
</g></svg>
<div class="diamond"></div>
<div class="t" style="left:1080.80px;top:34.49px;font-size:31.16px;color:#f4f1ec;font-weight:700;transform:scaleX(0.8936) translateZ(0)">Akashic Edge</div>
<div class="t" style="left:1729.20px;top:40.28px;font-size:20.14px;color:#a69d96;font-weight:700;transform:scaleX(0.8454) translateZ(0)">akashicedge.com</div>
<div class="t" style="left:1044.00px;top:92.87px;font-size:17.97px;color:#a69d96;font-weight:700;transform:scaleX(0.9919) translateZ(0)">County profile</div>
<div class="t" style="left:1044.23px;top:119.81px;font-size:57.68px;color:#f4f1ec;font-weight:700;transform:scaleX(0.8904) translateZ(0)">Davidson County</div>
<div class="t" style="left:1045.20px;top:191.74px;font-size:19.71px;color:#a69d96;font-weight:700;transform:scaleX(0.9674) translateZ(0)">Tennessee · Latest presidential: 2024</div>
<div class="t" style="left:1044.58px;top:225.74px;font-size:40.80px;color:#5b9cf4;font-weight:700;transform:scaleX(0.9080) translateZ(0)">D +27.4</div>
<div class="t" style="left:1192.81px;top:250.30px;font-size:16.30px;color:#a69d96;font-weight:700;transform:scaleX(0.9428) translateZ(0)">Harris · 2024</div>
<div class="t" style="left:1043.85px;top:279.20px;font-size:18.55px;color:#f4f1ec;font-weight:700;transform:scaleX(0.9539) translateZ(0)">Presidential Vote · 2008–2024</div>
<div class="t" style="left:1044.80px;top:314.87px;font-size:15.07px;color:#a69d96;font-weight:700;transform:scaleX(0.8821) translateZ(0)">Year</div>
<div class="t" style="left:1113.76px;top:314.87px;font-size:15.07px;color:#a69d96;font-weight:700;transform:scaleX(0.8437) translateZ(0)">Dem %</div>
<div class="t" style="left:1213.59px;top:314.87px;font-size:15.07px;color:#a69d96;font-weight:700;transform:scaleX(0.8109) translateZ(0)">Rep %</div>
<div class="t" style="left:1313.48px;top:314.87px;font-size:15.07px;color:#a69d96;font-weight:700;transform:scaleX(0.9238) translateZ(0)">Margin</div>
<div class="t" style="left:1434.40px;top:314.87px;font-size:15.07px;color:#a69d96;font-weight:700;transform:scaleX(0.8933) translateZ(0)">Winner</div>
<div class="t" style="left:1044.80px;top:350.35px;font-size:22.61px;color:#f4f1ec;font-weight:700;transform:scaleX(0.9902) translateZ(0)">2024</div>
<div class="t" style="left:1114.60px;top:350.35px;font-size:22.61px;color:#5b9cf4;font-weight:700;transform:scaleX(0.8527) translateZ(0)">62.7 %</div>
<div class="t" style="left:1214.40px;top:350.35px;font-size:22.61px;color:#f07070;font-weight:700;transform:scaleX(0.8598) translateZ(0)">35.3 %</div>
<div class="t" style="left:1313.48px;top:350.35px;font-size:22.61px;color:#5b9cf4;font-weight:700;transform:scaleX(0.9205) translateZ(0)">D +27.4</div>
<div class="t" style="left:1433.44px;top:350.35px;font-size:22.61px;color:#f4f1ec;font-weight:700;transform:scaleX(0.9601) translateZ(0)">Harris</div>
<div class="t" style="left:1044.80px;top:399.06px;font-size:18.84px;color:#f4f1ec;font-weight:700;transform:scaleX(1.0142) translateZ(0)">2020</div>
<div class="t" style="left:1114.60px;top:399.06px;font-size:18.84px;color:#5b9cf4;font-weight:700;transform:scaleX(0.8628) translateZ(0)">64.5 %</div>
<div class="t" style="left:1214.40px;top:399.06px;font-size:18.84px;color:#f07070;font-weight:700;transform:scaleX(0.8594) translateZ(0)">32.4 %</div>
<div class="t" style="left:1313.54px;top:399.06px;font-size:18.84px;color:#5b9cf4;font-weight:700;transform:scaleX(0.8647) translateZ(0)">D +32.1</div>
<div class="t" style="left:1433.51px;top:399.06px;font-size:18.84px;color:#f4f1ec;font-weight:700;transform:scaleX(0.8917) translateZ(0)">Biden</div>
<div class="t" style="left:1044.80px;top:440.55px;font-size:18.12px;color:#f4f1ec;font-weight:700;transform:scaleX(0.9250) translateZ(0)">2016</div>
<div class="t" style="left:1114.60px;top:440.55px;font-size:18.12px;color:#5b9cf4;font-weight:700;transform:scaleX(0.8796) translateZ(0)">59.8 %</div>
<div class="t" style="left:1214.40px;top:440.55px;font-size:18.12px;color:#f07070;font-weight:700;transform:scaleX(0.8885) translateZ(0)">33.9 %</div>
<div class="t" style="left:1313.44px;top:440.55px;font-size:18.12px;color:#5b9cf4;font-weight:700;transform:scaleX(0.9641) translateZ(0)">D +25.8</div>
<div class="t" style="left:1434.40px;top:440.55px;font-size:18.12px;color:#f4f1ec;font-weight:700;transform:scaleX(0.9348) translateZ(0)">Clinton</div>
<div class="t" style="left:1044.80px;top:482.75px;font-size:18.12px;color:#f4f1ec;font-weight:700;transform:scaleX(0.9250) translateZ(0)">2012</div>
<div class="t" style="left:1114.60px;top:482.75px;font-size:18.12px;color:#5b9cf4;font-weight:700;transform:scaleX(0.8778) translateZ(0)">58.3 %</div>
<div class="t" style="left:1214.40px;top:482.75px;font-size:18.12px;color:#f07070;font-weight:700;transform:scaleX(0.8885) translateZ(0)">39.8 %</div>
<div class="t" style="left:1313.48px;top:482.75px;font-size:18.12px;color:#5b9cf4;font-weight:700;transform:scaleX(0.9163) translateZ(0)">D +18.5</div>
<div class="t" style="left:1434.40px;top:482.75px;font-size:18.12px;color:#f4f1ec;font-weight:700;transform:scaleX(0.9692) translateZ(0)">Obama</div>
<div class="t" style="left:1044.80px;top:524.45px;font-size:18.12px;color:#f4f1ec;font-weight:700;transform:scaleX(1.0444) translateZ(0)">2008</div>
<div class="t" style="left:1114.60px;top:524.45px;font-size:18.12px;color:#5b9cf4;font-weight:700;transform:scaleX(0.8778) translateZ(0)">59.7 %</div>
<div class="t" style="left:1214.40px;top:524.45px;font-size:18.12px;color:#f07070;font-weight:700;transform:scaleX(0.8813) translateZ(0)">38.8 %</div>
<div class="t" style="left:1313.41px;top:524.45px;font-size:18.12px;color:#5b9cf4;font-weight:700;transform:scaleX(0.9863) translateZ(0)">D +20.9</div>
<div class="t" style="left:1434.40px;top:524.45px;font-size:18.12px;color:#f4f1ec;font-weight:700;transform:scaleX(0.9692) translateZ(0)">Obama</div>
<div class="t" style="left:1043.86px;top:573.95px;font-size:16.67px;color:#a69d96;font-weight:700;transform:scaleX(0.9397) translateZ(0)">Net swing 2008</div>
<div class="t" style="left:1174.40px;top:573.95px;font-size:16.67px;color:#a69d96;font-weight:700;transform:scaleX(0.9870) translateZ(0)">2024</div>
<div class="t" style="left:1798.57px;top:574.21px;font-size:16.23px;color:#5b9cf4;font-weight:700;transform:scaleX(0.9336) translateZ(0)">D +6.5 pts</div>
<div class="t" style="left:1043.47px;top:604.75px;font-size:18.12px;color:#f4f1ec;font-weight:700;transform:scaleX(0.9279) translateZ(0)">Race &amp; Ethnicity</div>
<div class="t" style="left:1325.60px;top:604.75px;font-size:18.12px;color:#f4f1ec;font-weight:700;transform:scaleX(0.9342) translateZ(0)">Top Ancestries</div>
<div class="t" style="left:1606.48px;top:604.75px;font-size:18.12px;color:#f4f1ec;font-weight:700;transform:scaleX(0.9163) translateZ(0)">Religious Composition</div>
<div class="t" style="left:1043.69px;top:885.53px;font-size:18.26px;color:#f4f1ec;font-weight:700;transform:scaleX(0.9061) translateZ(0)">Economics &amp; Language</div>
<div class="t" style="left:343.50px;top:825.92px;font-size:19.13px;color:#a69d96;font-weight:700;transform:scaleX(0.8580) translateZ(0)">2024 · Harris D +27.4 · Dem 62.7 % · Rep 35.3 %</div>
<div class="t" style="left:1044.20px;top:1007.56px;font-size:12.17px;color:#8f8780;font-weight:700;transform:scaleX(1.0002) translateZ(0)">Sources: Akashic Edge elections database · PL 94-171 (2020) · ACS 5-yr B04006</div>
<div class="t" style="left:1044.20px;top:1027.16px;font-size:13.62px;color:#a69d96;font-weight:700;transform:scaleX(0.9885) translateZ(0)">akashicedge.com/counties/47037</div>
<div class="t" style="left:1059.50px;top:933.40px;font-size:14.06px;color:#a69d96;font-weight:700;transform:scaleX(0.9376) translateZ(0)">Median HH income</div>
<div class="t" style="left:1272.30px;top:933.40px;font-size:14.06px;color:#a69d96;font-weight:700;transform:scaleX(0.9682) translateZ(0)">Poverty rate</div>
<div class="t" style="left:1485.40px;top:933.40px;font-size:14.06px;color:#a69d96;font-weight:700;transform:scaleX(0.9110) translateZ(0)">English at home</div>
<div class="t" style="left:1698.20px;top:933.40px;font-size:14.06px;color:#a69d96;font-weight:700;transform:scaleX(0.9582) translateZ(0)">Other language</div>
<div class="t" style="left:1060.00px;top:955.67px;font-size:22.46px;color:#f4f1ec;font-weight:700;transform:scaleX(0.9334) translateZ(0)">$77,853</div>
<div class="t" style="left:1271.48px;top:955.67px;font-size:22.46px;color:#f4f1ec;font-weight:700;transform:scaleX(0.8239) translateZ(0)">13.9 %</div>
<div class="t" style="left:1485.40px;top:955.67px;font-size:22.46px;color:#f4f1ec;font-weight:700;transform:scaleX(0.9037) translateZ(0)">80.8 %</div>
<div class="t" style="left:1697.37px;top:955.67px;font-size:22.46px;color:#f4f1ec;font-weight:700;transform:scaleX(0.8312) translateZ(0)">19.2 %</div>
<div class="r" style="left:1044.00px;top:80.00px;width:828.00px;height:1.20px;background:#17525c;"></div>
<div class="r" style="left:1044.00px;top:306.20px;width:828.00px;height:1.00px;background:#211f22;"></div>
<div class="r" style="left:1044.00px;top:338.00px;width:828.00px;height:1.00px;background:#211f22;"></div>
<div class="r" style="left:1044.00px;top:386.70px;width:828.00px;height:1.00px;background:#211f22;"></div>
<div class="r" style="left:1044.00px;top:429.70px;width:828.00px;height:1.00px;background:#211f22;"></div>
<div class="r" style="left:1044.00px;top:470.60px;width:828.00px;height:1.00px;background:#211f22;"></div>
<div class="r" style="left:1044.00px;top:512.10px;width:828.00px;height:1.00px;background:#211f22;"></div>
<div class="r" style="left:1044.00px;top:555.00px;width:828.00px;height:1.00px;background:#211f22;"></div>
<div class="r" style="left:1044.00px;top:564.10px;width:828.00px;height:1.00px;background:#211f22;"></div>
<div class="r" style="left:1044.00px;top:631.80px;width:265.00px;height:1.00px;background:#211f22;"></div>
<div class="r" style="left:1325.50px;top:631.80px;width:265.00px;height:1.00px;background:#211f22;"></div>
<div class="r" style="left:1607.00px;top:631.80px;width:265.00px;height:1.00px;background:#211f22;"></div>
<div class="t" style="left:1043.60px;top:645.91px;font-size:15.58px;color:#f4f1ec;font-weight:700;transform:scaleX(0.9127) translateZ(0)">White, non-</div>
<div class="t" style="left:1043.60px;top:664.16px;font-size:15.58px;color:#f4f1ec;font-weight:700;transform:scaleX(0.9127) translateZ(0)">Hispanic</div>
<div class="t" style="left:1164.20px;top:655.53px;font-size:14.78px;color:#a69d96;font-weight:700;transform:scaleX(0.8938) translateZ(0)">53.2 %</div>
<div class="r" style="left:1239.00px;top:661.00px;width:70.00px;height:6.00px;background:#1c1b1e;border-radius:3px;"></div>
<div class="r" style="left:1239.00px;top:661.00px;width:37.24px;height:6.00px;background:#8b95a7;border-radius:3px;"></div>
<div class="r" style="left:1044.00px;top:689.00px;width:265.00px;height:1.00px;background:#211f22;"></div>
<div class="t" style="left:1043.60px;top:696.96px;font-size:15.58px;color:#f4f1ec;font-weight:700;transform:scaleX(0.9127) translateZ(0)">Hispanic or</div>
<div class="t" style="left:1043.60px;top:715.76px;font-size:15.58px;color:#f4f1ec;font-weight:700;transform:scaleX(0.9127) translateZ(0)">Latino</div>
<div class="t" style="left:1164.20px;top:706.58px;font-size:14.78px;color:#a69d96;font-weight:700;transform:scaleX(0.8938) translateZ(0)">13.9 %</div>
<div class="r" style="left:1239.00px;top:712.05px;width:70.00px;height:6.00px;background:#1c1b1e;border-radius:3px;"></div>
<div class="r" style="left:1239.00px;top:712.05px;width:9.73px;height:6.00px;background:#d8921c;border-radius:3px;"></div>
<div class="r" style="left:1044.00px;top:739.90px;width:265.00px;height:1.00px;background:#211f22;"></div>
<div class="t" style="left:1043.60px;top:747.96px;font-size:15.58px;color:#f4f1ec;font-weight:700;transform:scaleX(0.9127) translateZ(0)">Black</div>
<div class="t" style="left:1164.20px;top:748.63px;font-size:14.78px;color:#a69d96;font-weight:700;transform:scaleX(0.8938) translateZ(0)">24.6 %</div>
<div class="r" style="left:1239.00px;top:754.10px;width:70.00px;height:6.00px;background:#1c1b1e;border-radius:3px;"></div>
<div class="r" style="left:1239.00px;top:754.10px;width:17.22px;height:6.00px;background:#9a80e0;border-radius:3px;"></div>
<div class="r" style="left:1044.00px;top:770.90px;width:265.00px;height:1.00px;background:#211f22;"></div>
<div class="t" style="left:1043.60px;top:780.26px;font-size:15.58px;color:#f4f1ec;font-weight:700;transform:scaleX(0.9127) translateZ(0)">Asian</div>
<div class="t" style="left:1164.20px;top:780.93px;font-size:14.78px;color:#a69d96;font-weight:700;transform:scaleX(0.8938) translateZ(0)">3.5 %</div>
<div class="r" style="left:1239.00px;top:786.40px;width:70.00px;height:6.00px;background:#1c1b1e;border-radius:3px;"></div>
<div class="r" style="left:1239.00px;top:786.40px;width:2.45px;height:6.00px;background:#34c48e;border-radius:3px;"></div>
<div class="r" style="left:1044.00px;top:803.70px;width:265.00px;height:1.00px;background:#211f22;"></div>
<div class="t" style="left:1043.60px;top:811.16px;font-size:15.58px;color:#f4f1ec;font-weight:700;transform:scaleX(0.9127) translateZ(0)">AIAN</div>
<div class="t" style="left:1164.20px;top:811.83px;font-size:14.78px;color:#a69d96;font-weight:700;transform:scaleX(0.8938) translateZ(0)">0.5 %</div>
<div class="r" style="left:1239.00px;top:817.30px;width:70.00px;height:6.00px;background:#1c1b1e;border-radius:3px;"></div>
<div class="r" style="left:1239.00px;top:817.30px;width:1.50px;height:6.00px;background:#d8921c;border-radius:3px;"></div>
<div class="r" style="left:1044.00px;top:835.00px;width:265.00px;height:1.00px;background:#211f22;"></div>
<div class="t" style="left:1324.80px;top:645.96px;font-size:15.58px;color:#f4f1ec;font-weight:700;transform:scaleX(0.9127) translateZ(0)">English</div>
<div class="t" style="left:1445.20px;top:646.63px;font-size:14.78px;color:#a69d96;font-weight:700;transform:scaleX(0.8938) translateZ(0)">11.0 %</div>
<div class="r" style="left:1520.00px;top:652.10px;width:70.00px;height:6.00px;background:#1c1b1e;border-radius:3px;"></div>
<div class="r" style="left:1520.00px;top:652.10px;width:7.70px;height:6.00px;background:#8b95a7;border-radius:3px;"></div>
<div class="r" style="left:1325.20px;top:669.70px;width:265.00px;height:1.00px;background:#211f22;"></div>
<div class="t" style="left:1324.80px;top:678.06px;font-size:15.58px;color:#f4f1ec;font-weight:700;transform:scaleX(0.9127) translateZ(0)">German</div>
<div class="t" style="left:1445.20px;top:678.73px;font-size:14.78px;color:#a69d96;font-weight:700;transform:scaleX(0.8938) translateZ(0)">8.8 %</div>
<div class="r" style="left:1520.00px;top:684.20px;width:70.00px;height:6.00px;background:#1c1b1e;border-radius:3px;"></div>
<div class="r" style="left:1520.00px;top:684.20px;width:6.16px;height:6.00px;background:#8b95a7;border-radius:3px;"></div>
<div class="r" style="left:1325.20px;top:701.80px;width:265.00px;height:1.00px;background:#211f22;"></div>
<div class="t" style="left:1324.80px;top:709.86px;font-size:15.58px;color:#f4f1ec;font-weight:700;transform:scaleX(0.9127) translateZ(0)">Irish</div>
<div class="t" style="left:1445.20px;top:710.53px;font-size:14.78px;color:#a69d96;font-weight:700;transform:scaleX(0.8938) translateZ(0)">8.0 %</div>
<div class="r" style="left:1520.00px;top:716.00px;width:70.00px;height:6.00px;background:#1c1b1e;border-radius:3px;"></div>
<div class="r" style="left:1520.00px;top:716.00px;width:5.60px;height:6.00px;background:#8b95a7;border-radius:3px;"></div>
<div class="r" style="left:1325.20px;top:733.90px;width:265.00px;height:1.00px;background:#211f22;"></div>
<div class="t" style="left:1324.80px;top:742.16px;font-size:15.58px;color:#f4f1ec;font-weight:700;transform:scaleX(0.9127) translateZ(0)">Mexican</div>
<div class="t" style="left:1445.20px;top:742.83px;font-size:14.78px;color:#a69d96;font-weight:700;transform:scaleX(0.8938) translateZ(0)">6.7 %</div>
<div class="r" style="left:1520.00px;top:748.30px;width:70.00px;height:6.00px;background:#1c1b1e;border-radius:3px;"></div>
<div class="r" style="left:1520.00px;top:748.30px;width:4.69px;height:6.00px;background:#d8921c;border-radius:3px;"></div>
<div class="r" style="left:1325.20px;top:766.00px;width:265.00px;height:1.00px;background:#211f22;"></div>
<div class="t" style="left:1324.80px;top:774.26px;font-size:15.58px;color:#f4f1ec;font-weight:700;transform:scaleX(0.9127) translateZ(0)">American</div>
<div class="t" style="left:1445.20px;top:774.93px;font-size:14.78px;color:#a69d96;font-weight:700;transform:scaleX(0.8938) translateZ(0)">5.6 %</div>
<div class="r" style="left:1520.00px;top:780.40px;width:70.00px;height:6.00px;background:#1c1b1e;border-radius:3px;"></div>
<div class="r" style="left:1520.00px;top:780.40px;width:3.92px;height:6.00px;background:#8b95a7;border-radius:3px;"></div>
<div class="r" style="left:1325.20px;top:796.70px;width:265.00px;height:1.00px;background:#211f22;"></div>
<div class="t" style="left:1606.60px;top:646.06px;font-size:15.58px;color:#f4f1ec;font-weight:700;transform:scaleX(0.9127) translateZ(0)">Non-adherent /</div>
<div class="t" style="left:1606.60px;top:664.56px;font-size:15.58px;color:#f4f1ec;font-weight:700;transform:scaleX(0.9127) translateZ(0)">Other</div>
<div class="t" style="left:1727.20px;top:655.83px;font-size:14.78px;color:#a69d96;font-weight:700;transform:scaleX(0.8938) translateZ(0)">38.3 %</div>
<div class="r" style="left:1802.00px;top:661.30px;width:70.00px;height:6.00px;background:#1c1b1e;border-radius:3px;"></div>
<div class="r" style="left:1802.00px;top:661.30px;width:26.81px;height:6.00px;background:#6b7180;border-radius:3px;"></div>
<div class="r" style="left:1607.00px;top:688.80px;width:265.00px;height:1.00px;background:#211f22;"></div>
<div class="t" style="left:1606.60px;top:697.16px;font-size:15.58px;color:#f4f1ec;font-weight:700;transform:scaleX(0.9127) translateZ(0)">Evangelical</div>
<div class="t" style="left:1606.60px;top:715.66px;font-size:15.58px;color:#f4f1ec;font-weight:700;transform:scaleX(0.9127) translateZ(0)">Protestant</div>
<div class="t" style="left:1727.20px;top:706.83px;font-size:14.78px;color:#a69d96;font-weight:700;transform:scaleX(0.8938) translateZ(0)">27.4 %</div>
<div class="r" style="left:1802.00px;top:712.30px;width:70.00px;height:6.00px;background:#1c1b1e;border-radius:3px;"></div>
<div class="r" style="left:1802.00px;top:712.30px;width:19.18px;height:6.00px;background:#e05f5f;border-radius:3px;"></div>
<div class="r" style="left:1607.00px;top:739.80px;width:265.00px;height:1.00px;background:#211f22;"></div>
<div class="t" style="left:1606.60px;top:747.86px;font-size:15.58px;color:#f4f1ec;font-weight:700;transform:scaleX(0.9127) translateZ(0)">Black</div>
<div class="t" style="left:1606.60px;top:766.86px;font-size:15.58px;color:#f4f1ec;font-weight:700;transform:scaleX(0.9127) translateZ(0)">Protestant</div>
<div class="t" style="left:1727.20px;top:757.33px;font-size:14.78px;color:#a69d96;font-weight:700;transform:scaleX(0.8938) translateZ(0)">11.4 %</div>
<div class="r" style="left:1802.00px;top:762.80px;width:70.00px;height:6.00px;background:#1c1b1e;border-radius:3px;"></div>
<div class="r" style="left:1802.00px;top:762.80px;width:7.98px;height:6.00px;background:#9a80e0;border-radius:3px;"></div>
<div class="r" style="left:1607.00px;top:789.70px;width:265.00px;height:1.00px;background:#211f22;"></div>
<div class="t" style="left:1606.60px;top:798.36px;font-size:15.58px;color:#f4f1ec;font-weight:700;transform:scaleX(0.9127) translateZ(0)">Catholic</div>
<div class="t" style="left:1727.20px;top:799.03px;font-size:14.78px;color:#a69d96;font-weight:700;transform:scaleX(0.8938) translateZ(0)">8.7 %</div>
<div class="r" style="left:1802.00px;top:804.50px;width:70.00px;height:6.00px;background:#1c1b1e;border-radius:3px;"></div>
<div class="r" style="left:1802.00px;top:804.50px;width:6.09px;height:6.00px;background:#dba21e;border-radius:3px;"></div>
<div class="r" style="left:1607.00px;top:821.90px;width:265.00px;height:1.00px;background:#211f22;"></div>
<div class="t" style="left:1606.60px;top:829.76px;font-size:15.58px;color:#f4f1ec;font-weight:700;transform:scaleX(0.9127) translateZ(0)">Mainline</div>
<div class="t" style="left:1606.60px;top:848.76px;font-size:15.58px;color:#f4f1ec;font-weight:700;transform:scaleX(0.9127) translateZ(0)">Protestant</div>
<div class="t" style="left:1727.20px;top:839.83px;font-size:14.78px;color:#a69d96;font-weight:700;transform:scaleX(0.8938) translateZ(0)">6.7 %</div>
<div class="r" style="left:1802.00px;top:845.30px;width:70.00px;height:6.00px;background:#1c1b1e;border-radius:3px;"></div>
<div class="r" style="left:1802.00px;top:845.30px;width:4.69px;height:6.00px;background:#4a84dc;border-radius:3px;"></div>
<div class="r" style="left:1607.00px;top:873.00px;width:265.00px;height:1.00px;background:#211f22;"></div>
<div class="r" style="left:1044.00px;top:913.00px;width:828.00px;height:1.00px;background:#211f22;"></div>
<div class="r" style="left:1044.00px;top:932.00px;width:1.00px;height:49.00px;background:#242225;"></div>
<div class="r" style="left:1256.90px;top:932.00px;width:1.00px;height:49.00px;background:#242225;"></div>
<div class="r" style="left:1469.70px;top:932.00px;width:1.00px;height:49.00px;background:#242225;"></div>
<div class="r" style="left:1682.90px;top:932.00px;width:1.00px;height:49.00px;background:#242225;"></div>
<div class="r" style="left:1044.00px;top:995.00px;width:462.00px;height:1.20px;background:#17525c;"></div>
<svg style="position:absolute;left:0;top:0" width="1920" height="1080"><path d="M1161.2,582.1 H1169.3 M1165.6,578.2 L1169.6,582.1 L1165.6,586.0" fill="none" stroke="#a69d96" stroke-width="1.8" stroke-linecap="round" stroke-linejoin="round"/></svg>
</body></html>
